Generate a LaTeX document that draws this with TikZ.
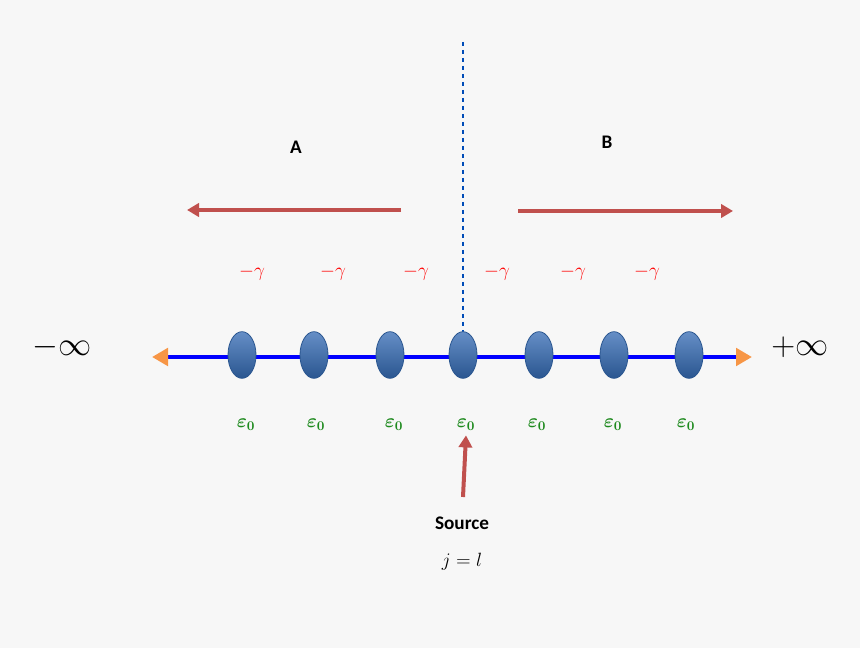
\documentclass[tikz,border=0pt]{standalone}
\usepackage{fontspec}
\setsansfont{Carlito}
\usepackage{amsmath,bm}
\usetikzlibrary{arrows.meta,shapes.geometric}
\definecolor{bg}{HTML}{F7F7F7}
\definecolor{arr}{HTML}{C0504D}
\definecolor{dot}{HTML}{3F72B8}
\definecolor{dotd}{HTML}{2A5690}
\definecolor{org}{HTML}{F79646}
\definecolor{grn}{HTML}{1E8A1E}
\begin{document}
\begin{tikzpicture}[x=0.75pt,y=-0.75pt,
  redarrow/.style={draw=arr,line width=3pt,-{Triangle[length=9pt,width=10pt]}},
  site/.style={ellipse,minimum width=21pt,minimum height=35pt,inner sep=0pt,draw=dotd,line width=0.6pt,top color=dot!80!white,bottom color=dotd},
  gam/.style={text=red,font=\Large},
  eps/.style={text=grn,font=\Large},
  lab/.style={font=\sffamily\bfseries\Large}]
\fill[bg] (0,0) rectangle (860,648);
\useasboundingbox (0,0) rectangle (860,648);
\draw[blue!60!black!70!cyan,dashed,line width=0.8pt] (463,42) -- (463,335);
\node[lab] (A) at (296,147) {A};
\node[lab] (B) at (607,142) {B};
\coordinate (a1) at (401,210); \coordinate (a2) at (187,210);
\coordinate (b1) at (518,211); \coordinate (b2) at (733,211);
\draw[redarrow] (a1) -- (a2);
\draw[redarrow] (b1) -- (b2);
\foreach \x [count=\i] in {252,333,416,497,573,647}
  \node[gam] (g\i) at (\x,273) {$-\gamma$};
\coordinate (L) at (152,357); \coordinate (R) at (752,357);
\draw[blue,line width=3pt,{Triangle[length=12pt,width=13pt,fill=org,color=org]}-{Triangle[length=12pt,width=13pt,fill=org,color=org]}] (L) -- (R);
\foreach \x [count=\i] in {242,314,390,463,539,614,689}
  \node[site] (s\i) at (\x,355) {};
\node[font=\Huge] (mi) at (62,347) {$-\infty$};
\node[font=\Huge] (pi) at (800,347) {$+\infty$};
\foreach \x [count=\i] in {246,316,394,466,537,613,686}
  \node[eps] (e\i) at (\x,425) {$\bm{\varepsilon_0}$};
\node[lab] (src) at (462,523) {Source};
\node[font=\Large] (jl) at (462,562) {$j=l$};
\coordinate (s0) at (463,497);
\draw[draw=arr,line width=3pt,-{Triangle[length=9pt,width=10pt]}] (s0) -- (e4.south);
\end{tikzpicture}
\end{document}
